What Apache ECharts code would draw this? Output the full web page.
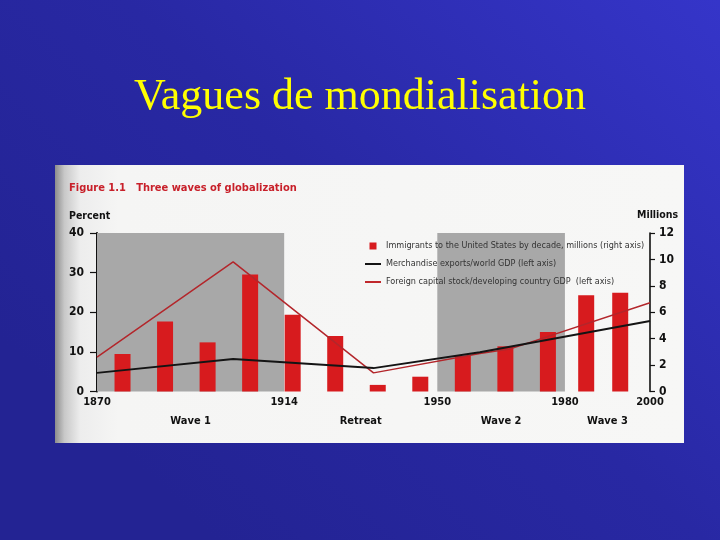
<!DOCTYPE html>
<html>
<head>
<meta charset="utf-8">
<style>
html,body{margin:0;padding:0;width:720px;height:540px;overflow:hidden;background:#2a2aa8;}
#c{width:720px;height:540px;}
</style>
<script src="https://cdn.jsdelivr.net/npm/echarts@6/dist/echarts.min.js"></script>
</head>
<body>
<div id="c"></div>
<script>
// ---- data ----
var slideTitle = 'Vagues de mondialisation';
var figureTitle = 'Figure 1.1   Three waves of globalization';
var seriesNames = [
  'Immigrants to the United States by decade, millions (right axis)',
  'Merchandise exports/world GDP (left axis)',
  'Foreign capital stock/developing country GDP  (left axis)'
];
// bar positions (decade slots, in years) and immigrants (millions)
var immigrantYears = [1876, 1886, 1896, 1906, 1916, 1926, 1936, 1946, 1956, 1966, 1976, 1985, 1993];
var immigrants     = [2.84, 5.3, 3.72, 8.86, 5.82, 4.2, 0.5, 1.12, 2.7, 3.42, 4.51, 7.29, 7.47];
// merchandise exports / world GDP (percent)
var exportsYears = [1870, 1902, 1935, 1960, 2000];
var exportsPct   = [4.7, 8.2, 5.9, 9.9, 17.8];
// foreign capital stock / developing country GDP (percent)
var capitalYears = [1870, 1902, 1935, 1960, 1967, 2000];
var capitalPct   = [8.7, 32.7, 4.7, 9.6, 10.7, 22.4];
// x tick labels and periods
var yearTicks = [1870, 1914, 1950, 1980, 2000];
var periodNames  = ['Wave 1', 'Retreat', 'Wave 2', 'Wave 3'];
var periodStarts = [1870, 1914, 1950, 1980];
var periodEnds   = [1914, 1950, 1980, 2000];
var shadedPeriods = [0, 2]; // Wave 1 and Wave 2 are shaded

function pairs(xs, ys){ return xs.map(function(x,i){ return [x, ys[i]]; }); }
var periodMids = periodStarts.map(function(s,i){ return (s + periodEnds[i]) / 2; });

var narrow = "'Liberation Sans Narrow', 'DejaVu Sans Condensed', 'Liberation Sans', sans-serif";
function bold(size){ return {fontFamily: narrow, fontWeight: 'bold', fontSize: size, color: '#111'}; }

var chart = echarts.init(document.getElementById('c'), null, {renderer: 'canvas'});
chart.setOption({
  animation: false,
  backgroundColor: 'transparent',
  graphic: [
    {type: 'rect', z: -20, silent: true, shape: {x: 0, y: 0, width: 720, height: 540},
     style: {fill: new echarts.graphic.LinearGradient(1, 0, 0.3, 1, [
       {offset: 0, color: '#3535c9'}, {offset: 0.55, color: '#2828a3'}, {offset: 1, color: '#232393'}])}},
    {type: 'rect', z: -19, silent: true, shape: {x: 55, y: 165, width: 629, height: 278},
     style: {fill: new echarts.graphic.LinearGradient(0, 0, 1, 0, [
       {offset: 0, color: '#8c8c8c'}, {offset: 0.015, color: '#c8c8c8'}, {offset: 0.04, color: '#ededed'},
       {offset: 0.1, color: '#f5f5f4'}, {offset: 1, color: '#f7f7f6'}])}}
  ],
  title: [
    {text: slideTitle, left: 'center', top: 70,
     textStyle: {fontFamily: "'Liberation Serif', 'Times New Roman', serif", fontWeight: 'normal', fontSize: 44, color: '#ffff00'}},
    {text: figureTitle, left: 64, top: 178,
     textStyle: {fontFamily: narrow, fontWeight: 'bold', fontSize: 11, color: '#c8202a'}},
    {text: 'Percent', left: 64, top: 206,
     textStyle: {fontFamily: narrow, fontWeight: 'bold', fontSize: 10.5, color: '#111'}},
    {text: 'Millions', left: 632, top: 205,
     textStyle: {fontFamily: narrow, fontWeight: 'bold', fontSize: 10.5, color: '#111'}}
  ],
  legend: {
    orient: 'vertical', left: 365, top: 240, itemGap: 6, padding: 0,
    itemWidth: 16, itemHeight: 7,
    textStyle: {fontFamily: narrow, fontSize: 9, color: '#333', lineHeight: 12},
    data: [
      {name: seriesNames[0], icon: 'path://M0,0h10v10h-10z'},
      {name: seriesNames[1], icon: 'path://M0,0h16v2h-16z'},
      {name: seriesNames[2], icon: 'path://M0,0h16v2h-16z'}
    ]
  },
  grid: {left: 97, right: 70, top: 233, bottom: 148.5, containLabel: false},
  xAxis: [
    {type: 'value', min: 1870, max: 2000, position: 'bottom',
     axisLine: {show: false}, axisTick: {show: false}, splitLine: {show: false},
     axisLabel: Object.assign({customValues: yearTicks, margin: 5, formatter: function(v){ return String(v); }}, bold(11))},
    {type: 'value', min: 1870, max: 2000, position: 'bottom', offset: 19,
     axisLine: {show: false}, axisTick: {show: false}, splitLine: {show: false},
     axisLabel: Object.assign({customValues: periodMids, margin: 5, formatter: function(v){
       var i = periodMids.indexOf(v); return i >= 0 ? periodNames[i] : ''; }}, bold(11))}
  ],
  yAxis: [
    {type: 'value', min: 0, max: 40, interval: 10, position: 'left',
     axisLine: {show: true, lineStyle: {color: '#111', width: 2}},
     axisTick: {show: true, inside: false, length: 7, lineStyle: {color: '#111', width: 1.2}},
     splitLine: {show: false},
     axisLabel: Object.assign({margin: 13}, bold(12))},
    {type: 'value', min: 0, max: 12, interval: 2, position: 'right',
     axisLine: {show: true, lineStyle: {color: '#111', width: 1.6}},
     axisTick: {show: true, inside: false, length: 5, lineStyle: {color: '#111', width: 1.2}},
     splitLine: {show: false},
     axisLabel: Object.assign({margin: 9}, bold(12))}
  ],
  series: [
    {name: 'periods', type: 'line', xAxisIndex: 0, yAxisIndex: 0, z: 1, data: [],
     silent: true,
     markArea: {silent: true, itemStyle: {color: '#a8a8a8'},
       data: shadedPeriods.map(function(i){ return [{xAxis: periodStarts[i]}, {xAxis: periodEnds[i]}]; })}},
    {name: seriesNames[0], type: 'bar', xAxisIndex: 0, yAxisIndex: 1, z: 2,
     barWidth: 16, itemStyle: {color: '#d71b1e'},
     data: pairs(immigrantYears, immigrants)},
    {name: seriesNames[1], type: 'line', xAxisIndex: 0, yAxisIndex: 0, z: 4,
     symbol: 'none', lineStyle: {color: '#141414', width: 2}, itemStyle: {color: '#141414'},
     data: pairs(exportsYears, exportsPct)},
    {name: seriesNames[2], type: 'line', xAxisIndex: 0, yAxisIndex: 0, z: 3,
     symbol: 'none', lineStyle: {color: '#b3262b', width: 1.5}, itemStyle: {color: '#c0282c'},
     data: pairs(capitalYears, capitalPct)}
  ]
});
</script>
</body>
</html>
